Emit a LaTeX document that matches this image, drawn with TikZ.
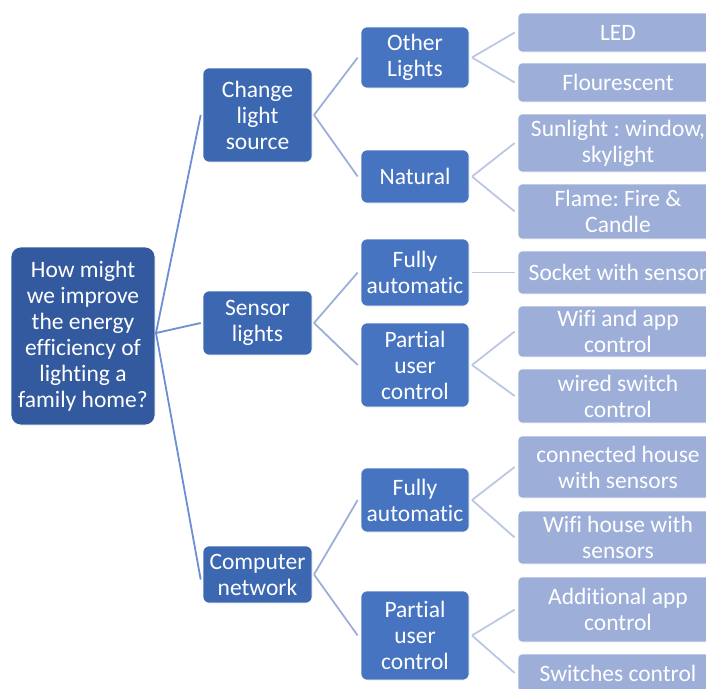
\documentclass[tikz,border=0pt]{standalone}
\usepackage{fontspec}
\setmainfont{Carlito}[Ligatures={NoCommon}]
\frenchspacing
\definecolor{rootc}{HTML}{335A9F}
\definecolor{lonec}{HTML}{3C67B1}
\definecolor{ltwoc}{HTML}{4674C1}
\definecolor{lthreec}{HTML}{9DAFD9}
\definecolor{linea}{HTML}{6C8FD3}
\definecolor{lineb}{HTML}{9DAED8}
\definecolor{linec}{HTML}{BCC7E6}
\tikzset{
  box/.style={rectangle, text=white, align=center, inner sep=0pt,
    font=\fontsize{23.5}{26}\selectfont, draw=white, line width=0.6pt},
  rootbox/.style={box, fill=rootc, rounded corners=10pt, minimum width=144pt},
  lonebox/.style={box, fill=lonec, rounded corners=6pt, minimum width=109pt},
  ltwobox/.style={box, fill=ltwoc, rounded corners=6pt, minimum width=108pt},
  lthreebox/.style={box, fill=lthreec, rounded corners=4pt, minimum width=200pt},
  conna/.style={draw=linea, line width=1.8pt},
  connb/.style={draw=lineb, line width=1.8pt},
  connc/.style={draw=linec, line width=1.8pt},
}
\begin{document}
\begin{tikzpicture}[x=1pt, y=-1pt]
\useasboundingbox (0,0) rectangle (706,688);
\clip (0,0) rectangle (706,688);
% root
\node[rootbox, minimum height=178pt] (root) at (83,336) {How might\\we improve\\the energy\\efficiency of\\lighting a\\family home?};
% level 1
\node[lonebox, minimum height=94pt] (cls) at (257.5,115) {Change\\light\\source};
\node[lonebox, minimum height=64pt] (sl) at (257.5,323) {Sensor\\lights};
\node[lonebox, minimum height=57pt] (cn) at (257.5,574.5) {Computer\\network};
% level 2
\node[ltwobox, minimum height=61pt] (ol) at (415,57.5) {Other\\Lights};
\node[ltwobox, minimum height=53pt] (nat) at (415,176.5) {Natural};
\node[ltwobox, minimum height=67pt] (faa) at (415,272.5) {Fully\\automatic};
\node[ltwobox, minimum height=84pt] (puca) at (415,365) {Partial\\user\\control};
\node[ltwobox, minimum height=64pt] (fab) at (415,500) {Fully\\automatic};
\node[ltwobox, minimum height=89pt] (pucb) at (415,635.5) {Partial\\user\\control};
% level 3
\node[lthreebox, minimum height=39pt] (led) at (618,32.5) {LED};
\node[lthreebox, minimum height=39pt] (flo) at (618,82.5) {Flourescent};
\node[lthreebox, minimum height=58pt] (sun) at (618,143) {Sunlight : window,\\skylight};
\node[lthreebox, minimum height=55pt] (fla) at (618,211.5) {Flame: Fire \&\\Candle};
\node[lthreebox, minimum height=43pt] (soc) at (618,272.5) {Socket with sensor};
\node[lthreebox, minimum height=51pt] (wifi) at (618,331.5) {Wifi and app\\control};
\node[lthreebox, minimum height=54pt] (wired) at (618,396) {wired switch\\control};
\node[lthreebox, minimum height=62pt] (conh) at (618,467) {connected house\\with sensors};
\node[lthreebox, minimum height=53pt] (wifih) at (618,537.5) {Wifi house with\\sensors};
\node[lthreebox, minimum height=65pt] (addc) at (618,609.5) {Additional app\\control};
\node[lthreebox, minimum height=38pt] (swc) at (618,673) {Switches control};
% junctions
\coordinate (j0) at (156,333);
\coordinate (j1) at (314,115);
\coordinate (j2) at (314,323);
\coordinate (j3) at (314,574.5);
\coordinate (k1) at (472,57.5);
\coordinate (k2) at (472,176.5);
\coordinate (k3) at (472,272.5);
\coordinate (k4) at (472,365);
\coordinate (k5) at (472,500);
\coordinate (k6) at (472,635.5);
% connectors
\draw[conna] (j0) -- ([xshift=-2pt]cls.west);
\draw[conna] (j0) -- ([xshift=-2pt]sl.west);
\draw[conna] (j0) -- ([xshift=-2pt,yshift=-5pt]cn.west);
\draw[connb] (j1) -- ([xshift=-3pt]ol.west);
\draw[connb] (j1) -- ([xshift=-3pt]nat.west);
\draw[connb] (j2) -- ([xshift=-3pt]faa.west);
\draw[connb] (j2) -- ([xshift=-3pt]puca.west);
\draw[connb] (j3) -- ([xshift=-3pt]fab.west);
\draw[connb] (j3) -- ([xshift=-3pt]pucb.west);
\draw[connc] (k1) -- ([xshift=-3pt]led.west);
\draw[connc] (k1) -- ([xshift=-3pt]flo.west);
\draw[connc] (k2) -- ([xshift=-3pt]sun.west);
\draw[connc] (k2) -- ([xshift=-3pt]fla.west);
\draw[connc] (k3) -- ([xshift=-3pt]soc.west);
\draw[connc] (k4) -- ([xshift=-3pt]wifi.west);
\draw[connc] (k4) -- ([xshift=-3pt]wired.west);
\draw[connc] (k5) -- ([xshift=-3pt]conh.west);
\draw[connc] (k5) -- ([xshift=-3pt]wifih.west);
\draw[connc] (k6) -- ([xshift=-3pt]addc.west);
\draw[connc] (k6) -- ([xshift=-3pt]swc.west);
\end{tikzpicture}
\end{document}
